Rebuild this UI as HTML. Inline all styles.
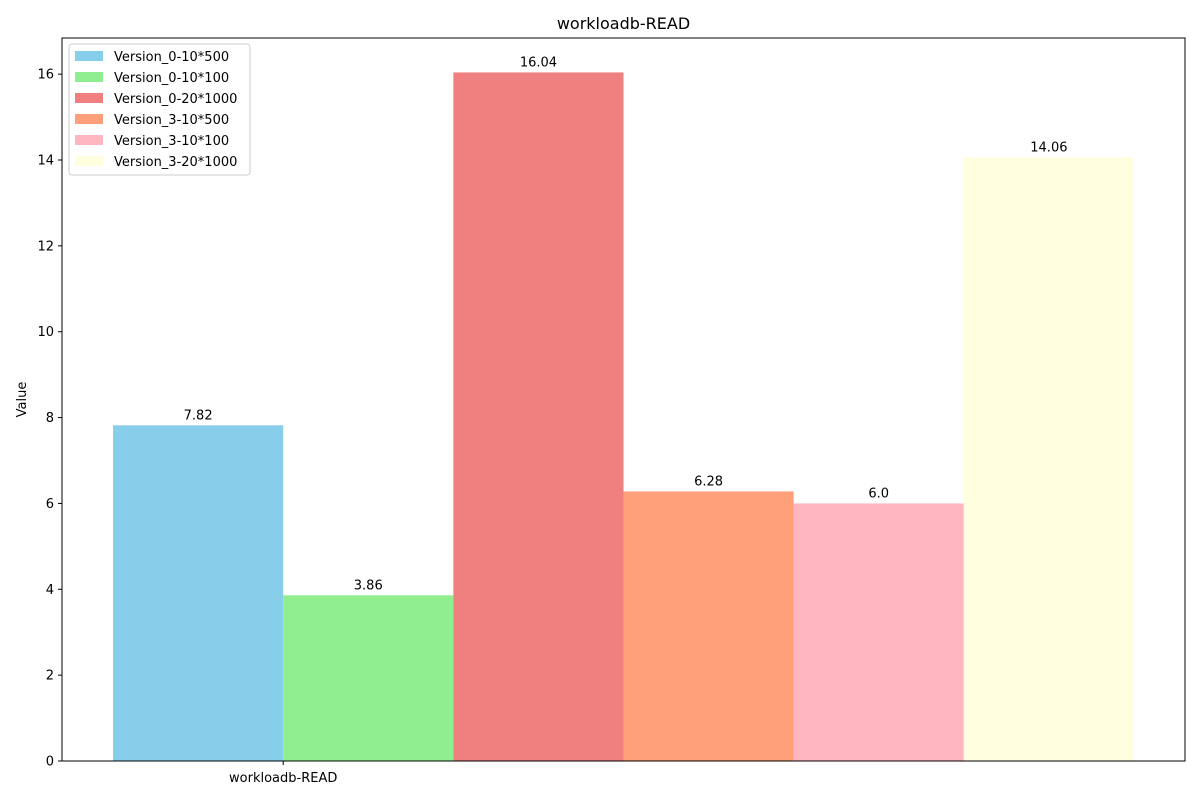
<!DOCTYPE html>
<html><head><meta charset="utf-8"><style>
body{margin:0;background:#fff;font-family:"Liberation Sans","DejaVu Sans",sans-serif;}
svg text{font-family:"DejaVu Sans","Liberation Sans",sans-serif;}
</style></head><body>
<svg id="chart" width="1200" height="800" xmlns="http://www.w3.org/2000/svg">
<rect width="1200" height="800" fill="#fff"/>
<g id="plot"></g>
</svg>
<script>
const categories = ["workloadb-READ"];
const seriesNames = ["Version_0-10*500","Version_0-10*100","Version_0-20*1000","Version_3-10*500","Version_3-10*100","Version_3-20*1000"];
const seriesValues = [7.82, 3.86, 16.04, 6.28, 6.0, 14.06];
const valueLabels = ["7.82","3.86","16.04","6.28","6.0","14.06"];
const yTicks = [0,2,4,6,8,10,12,14,16];
const colors = ["#87ceeb","#90ee90","#f08080","#ffa07a","#ffb6c1","#ffffe0"];

const NS="http://www.w3.org/2000/svg";
const svg=document.getElementById('chart');
const L=62,R=1185,T=38,B=761;
const yMax=Math.max(...seriesValues)*1.05;
const y=v=>B-(v/yMax)*(B-T);
const n=seriesValues.length;
const bw=(R-L)/(n+0.6);
const x0=L+0.3*bw;
const x=i=>x0+i*bw;
function el(tag,attrs,txt){const e=document.createElementNS(NS,tag);for(const k in attrs)e.setAttribute(k,attrs[k]);if(txt!==undefined)e.textContent=txt;svg.appendChild(e);return e;}

seriesValues.forEach((v,i)=>{
  const r=el('rect',{x:x(i),y:y(v),width:bw,height:B-y(v),fill:colors[i]});
  
  
  const t=el('text',{x:x(i)+bw/2,y:y(v)-6,'text-anchor':'middle','font-size':13},valueLabels[i]);
  
  
});
const frame=el('rect',{x:L,y:T,width:R-L,height:B-T,fill:'none',stroke:'#000','stroke-width':1});


yTicks.forEach(v=>{
  el('line',{x1:L-4,x2:L,y1:y(v),y2:y(v),stroke:'#000'});
  const t=el('text',{x:L-8,y:y(v)+4.5,'text-anchor':'end','font-size':13},String(v));
  
  
});
categories.forEach((c,i)=>{
  const cx=x(1);
  el('line',{x1:cx,x2:cx,y1:B,y2:B+4,stroke:'#000'});
  const t=el('text',{x:cx,y:B+21,'text-anchor':'middle','font-size':13},c);
  
  
});
const title=el('text',{x:(L+R)/2,y:29,'text-anchor':'middle','font-size':16},'workloadb-READ');


const yt=el('text',{x:26,y:(T+B)/2,'text-anchor':'middle','font-size':13,transform:`rotate(-90 26 ${(T+B)/2})`},'Value');


const lg=el('rect',{x:69,y:44,width:181,height:131,rx:3,fill:'#fff','fill-opacity':0.8,stroke:'#ccc'});


seriesNames.forEach((s,i)=>{
  const yy=56+i*21;
  el('rect',{x:75,y:yy-5,width:28,height:10,fill:colors[i]});
  const t=el('text',{x:114,y:yy+5,'font-size':13},s);
  
  
});
</script>
</body></html>
